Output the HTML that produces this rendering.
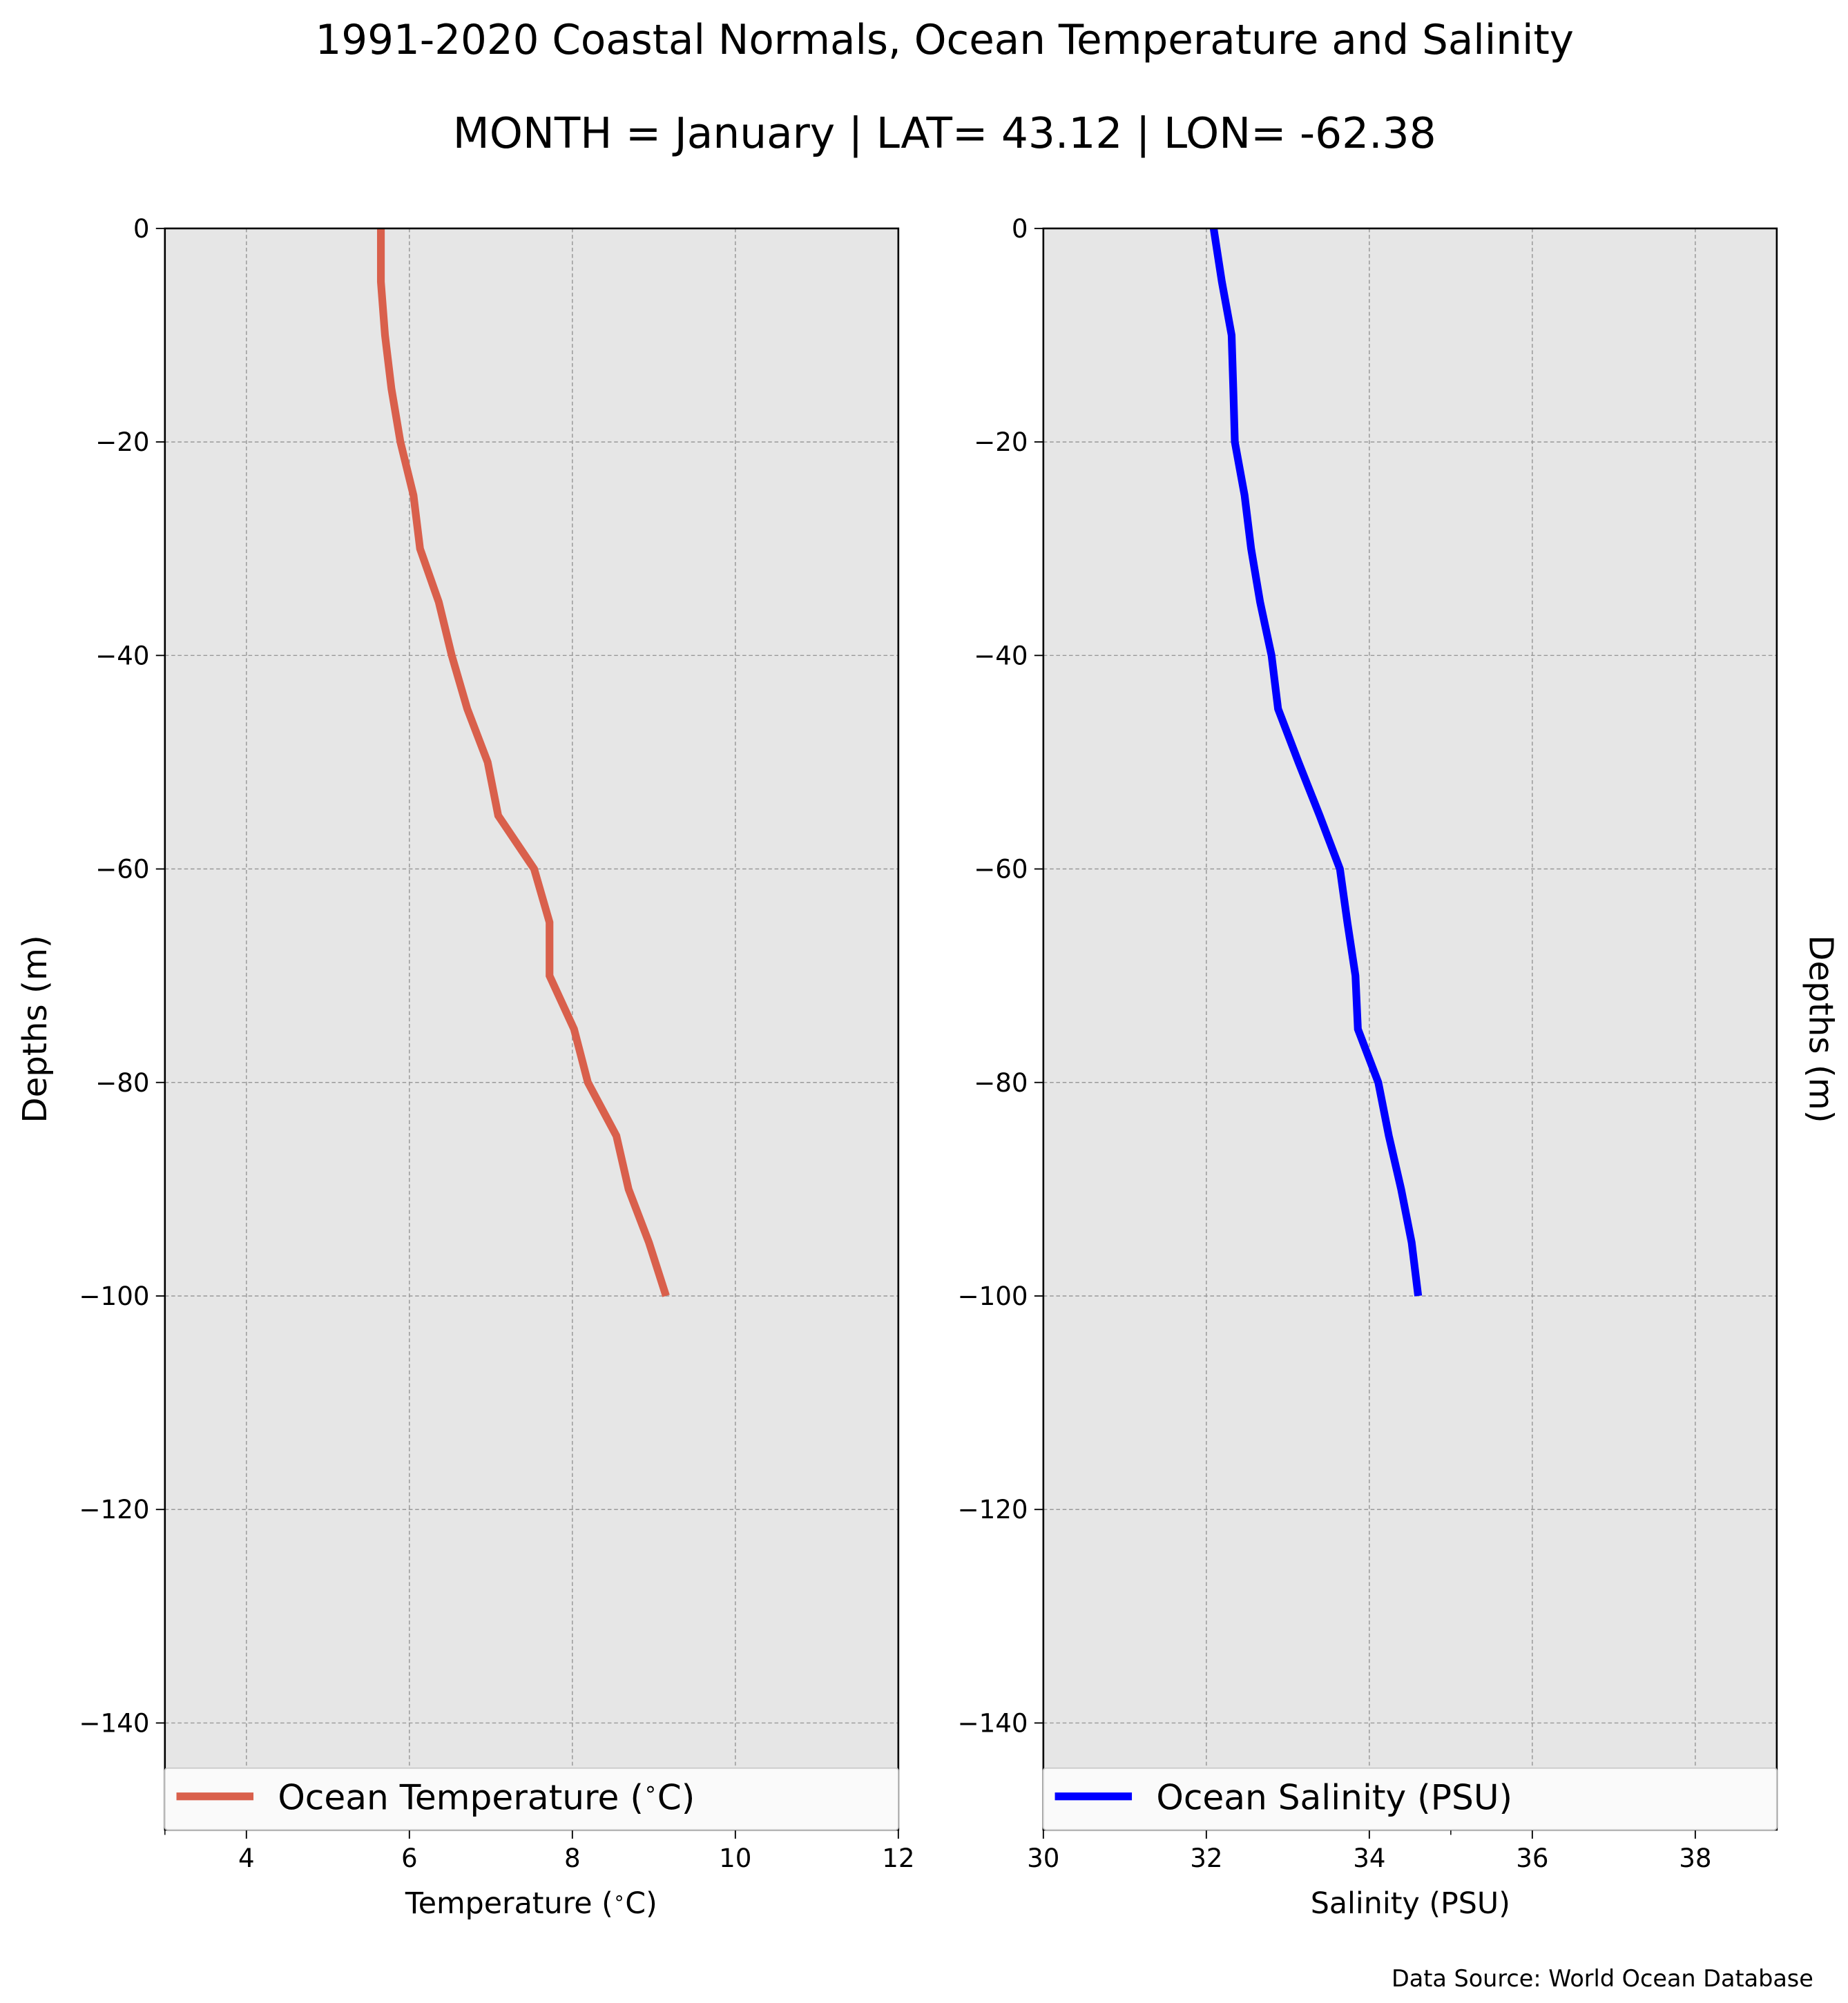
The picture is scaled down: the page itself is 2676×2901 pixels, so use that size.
<!DOCTYPE html>
<html><head><meta charset="utf-8"><style>
html,body{margin:0;padding:0;background:#fff;}
svg{display:block;font-family:"DejaVu Sans","Liberation Sans",sans-serif;}
</style></head><body>
<svg id="chart" width="2676" height="2901" viewBox="0 0 1440 1561" xmlns="http://www.w3.org/2000/svg">
<text x="736" y="42" font-size="32" text-anchor="middle">1991-2020 Coastal Normals, Ocean Temperature and Salinity</text>
<text x="736" y="115" font-size="33" text-anchor="middle">MONTH = January | LAT= 43.12 | LON= -62.38</text>
<g id="left"></g>
<g id="right"></g>
<text transform="translate(36,802) rotate(-90)" font-size="26" text-anchor="middle">Depths (m)</text>
<text transform="translate(1410,802) rotate(90)" font-size="26" text-anchor="middle">Depths (m)</text>
<text x="414" y="1491" font-size="23" text-anchor="middle">Temperature (<tspan font-size="15" dy="-7">∘</tspan><tspan dy="7">C)</tspan></text>
<text x="1099" y="1491" font-size="23" text-anchor="middle">Salinity (PSU)</text>
<text x="1413" y="1548" font-size="18" text-anchor="end">Data Source: World Ocean Database</text>
</svg>
<script>
const depths = [0,-5,-10,-15,-20,-25,-30,-35,-40,-45,-50,-55,-60,-65,-70,-75,-80,-85,-90,-95,-100];
const temperature = [5.65,5.65,5.70,5.78,5.89,6.05,6.13,6.36,6.52,6.71,6.96,7.09,7.53,7.72,7.72,8.02,8.19,8.54,8.69,8.94,9.15];
const salinity = [32.09,32.19,32.31,32.33,32.35,32.47,32.55,32.66,32.80,32.88,33.13,33.39,33.64,33.73,33.83,33.86,34.11,34.24,34.39,34.52,34.60];
const yTicks = [0,-20,-40,-60,-80,-100,-120,-140];
const tempTicks = [4,6,8,10,12];
const salTicks = [30,32,34,36,38];
const NS="http://www.w3.org/2000/svg";
const TOP=178, BOT=1426, YMIN=-150, YMAX=0;
function y(v){return TOP+(YMAX-v)/(YMAX-YMIN)*(BOT-TOP);}
function mk(p,tag,attrs){const e=document.createElementNS(NS,tag);for(const k in attrs)e.setAttribute(k,attrs[k]);p.appendChild(e);return e;}
function panel(gid,x0,x1,xmin,xmax,xticks,minor,values,color,label,prefix){
  const g=document.getElementById(gid);
  const x=v=>x0+(v-xmin)/(xmax-xmin)*(x1-x0);
  const bg=mk(g,'rect',{x:x0,y:TOP,width:x1-x0,height:BOT-TOP,fill:'#e6e6e6'});
  
  
  xticks.forEach(t=>{
    const l=mk(g,'line',{x1:x(t),x2:x(t),y1:TOP,y2:BOT,stroke:'#999','stroke-width':0.8,'stroke-dasharray':'3,2'});
    
    
    const tk=mk(g,'line',{x1:x(t),x2:x(t),y1:BOT,y2:BOT+7,stroke:'#000','stroke-width':1});
    
    
    const tx=mk(g,'text',{x:x(t),y:BOT+29,'font-size':20,'text-anchor':'middle'});
    tx.textContent=t;
    
    
  });
  minor.forEach(t=>{
    const tk=mk(g,'line',{x1:x(t),x2:x(t),y1:BOT,y2:BOT+4,stroke:'#000','stroke-width':0.8});
    
    
  });
  yTicks.forEach(t=>{
    const l=mk(g,'line',{x1:x0,x2:x1,y1:y(t),y2:y(t),stroke:'#999','stroke-width':0.8,'stroke-dasharray':'3,2'});
    
    
    const tk=mk(g,'line',{x1:x0-7,x2:x0,y1:y(t),y2:y(t),stroke:'#000','stroke-width':1});
    
    
    const tx=mk(g,'text',{x:x0-12,y:y(t)+7,'font-size':20,'text-anchor':'end'});
    tx.textContent=t===0?'0':'\u2212'+Math.abs(t);
    
    
  });
  const pts=depths.map((d,i)=>x(values[i]).toFixed(1)+','+y(d).toFixed(1)).join(' ');
  const line=mk(g,'polyline',{points:pts,fill:'none',stroke:color,'stroke-width':6,'stroke-linejoin':'miter'});
  
  
  const fr=mk(g,'rect',{x:x0,y:TOP,width:x1-x0,height:BOT-TOP,fill:'none',stroke:'#000','stroke-width':1.4});
  
  
  const lg=mk(g,'g',{});
  
  
  mk(lg,'rect',{x:x0,y:1378,width:x1-x0,height:48,fill:'#fafafa',stroke:'#ccc','stroke-width':1,rx:2});
  const sw=mk(lg,'line',{x1:x0+9,x2:x0+69,y1:1400,y2:1400,stroke:color,'stroke-width':6});
  
  
  const lt=mk(lg,'text',{x:x0+88,y:1410,'font-size':27});
  lt.innerHTML=label;
  
  
}
panel('left',128.5,700,3,12,tempTicks,[3],temperature,'#d9604c','Ocean Temperature (<tspan font-size="17" dy="-10">∘</tspan><tspan dy="10">C)</tspan>','temperature');
panel('right',813,1384.5,30,39,salTicks,[35],salinity,'#0000ff','Ocean Salinity (PSU)','salinity');
</script>
</body></html>
